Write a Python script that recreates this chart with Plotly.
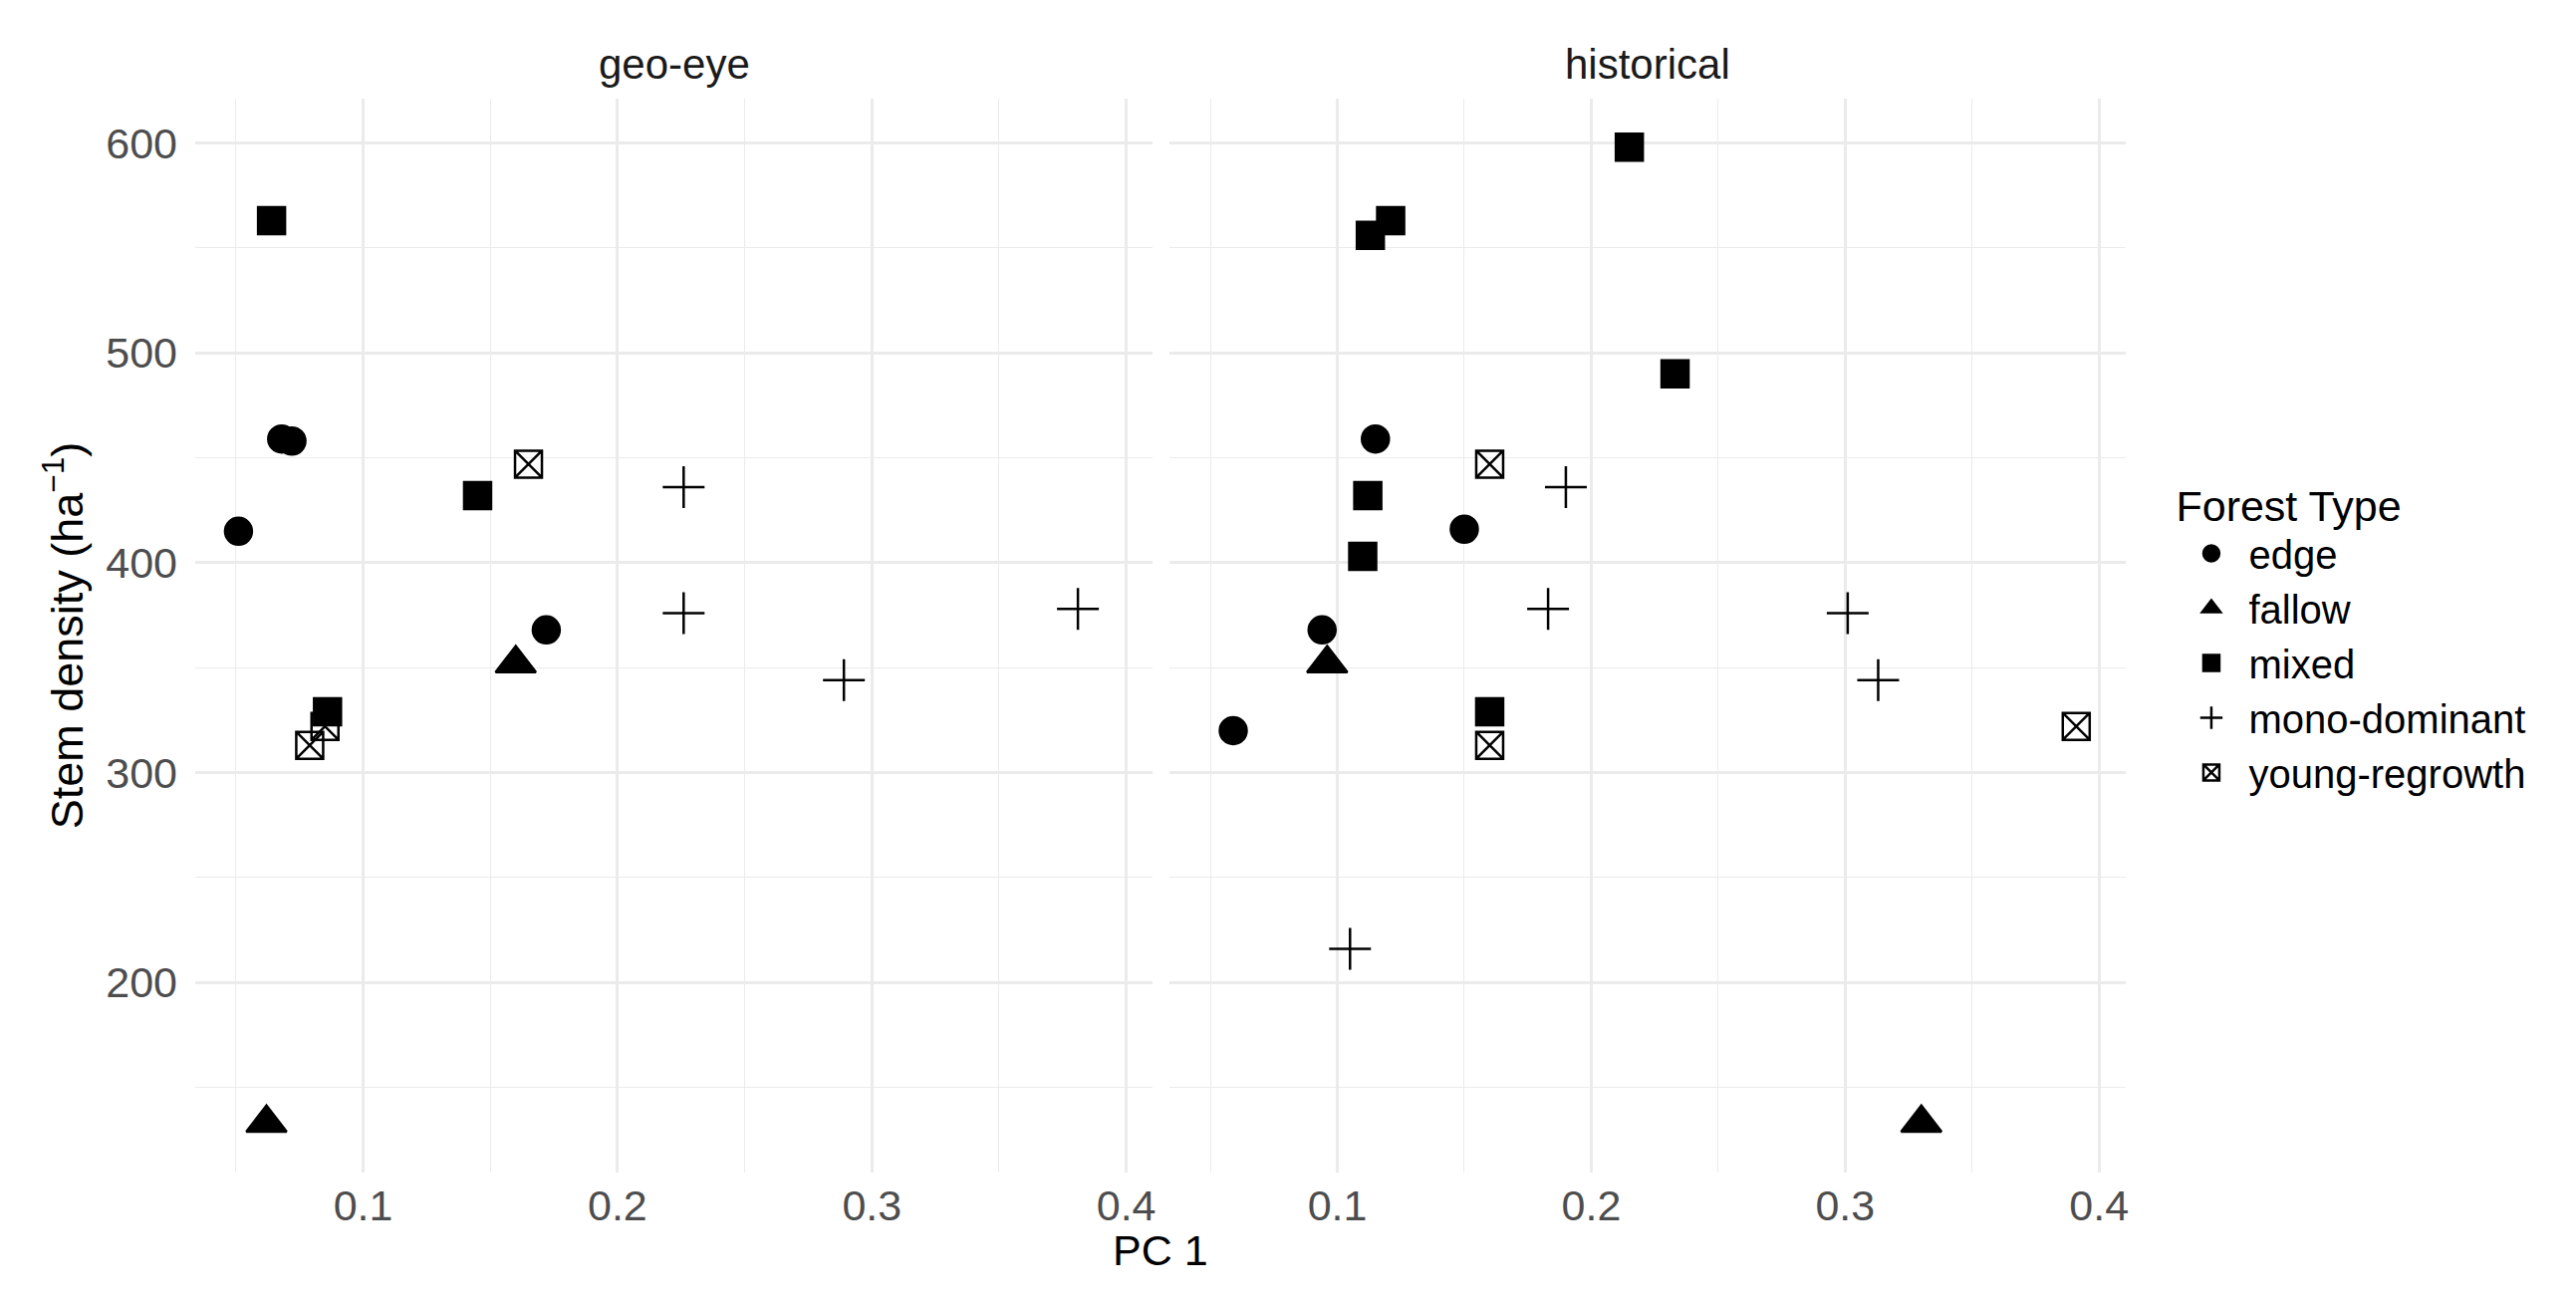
import plotly.graph_objects as go

# forest types in legend order
forest_types = ['edge', 'fallow', 'mixed', 'mono-dominant', 'young-regrowth']

# geo-eye facet
geo_type = ['edge', 'edge', 'edge', 'edge',
            'fallow', 'fallow',
            'mixed', 'mixed', 'mixed',
            'mono-dominant', 'mono-dominant', 'mono-dominant', 'mono-dominant',
            'young-regrowth', 'young-regrowth', 'young-regrowth']
geo_pc1 = [0.051, 0.068, 0.072, 0.172,
           0.160, 0.062,
           0.064, 0.145, 0.086,
           0.226, 0.226, 0.381, 0.289,
           0.165, 0.085, 0.079]
geo_stem = [415, 459, 458, 368,
            352, 133,
            563, 432, 329,
            436, 376, 378, 344,
            447, 322, 313]

# historical facet
hist_type = ['edge', 'edge', 'edge', 'edge',
             'fallow', 'fallow',
             'mixed', 'mixed', 'mixed', 'mixed', 'mixed', 'mixed', 'mixed',
             'mono-dominant', 'mono-dominant', 'mono-dominant', 'mono-dominant', 'mono-dominant',
             'young-regrowth', 'young-regrowth', 'young-regrowth']
hist_pc1 = [0.115, 0.150, 0.094, 0.059,
            0.096, 0.330,
            0.215, 0.121, 0.113, 0.233, 0.112, 0.110, 0.160,
            0.190, 0.183, 0.301, 0.313, 0.105,
            0.160, 0.160, 0.391]
hist_stem = [459, 416, 368, 320,
             352, 133,
             598, 563, 556, 490, 432, 403, 329,
             436, 378, 376, 344, 216,
             447, 313, 322]

facets = ['geo-eye', 'historical']
x_ticks = [0.1, 0.2, 0.3, 0.4]
y_ticks = [200, 300, 400, 500, 600]

# ggplot-like shapes
symbols = {'edge': 'circle', 'fallow': 'triangle-up', 'mixed': 'square',
           'mono-dominant': 'cross-thin-open', 'young-regrowth': 'square-x-open'}
sizes = {'edge': 27, 'fallow': 35, 'mixed': 27, 'mono-dominant': 30, 'young-regrowth': 27}

FONT = 'Liberation Sans, Arial, sans-serif'

fig = go.Figure()

for fi, (ftype, fx, fy) in enumerate([(geo_type, geo_pc1, geo_stem), (hist_type, hist_pc1, hist_stem)]):
    for t in forest_types:
        xs = [x for x, k in zip(fx, ftype) if k == t]
        ys = [y for y, k in zip(fy, ftype) if k == t]
        fig.add_trace(go.Scatter(
            x=xs, y=ys, mode='markers', name=t,
            legendgroup=t, showlegend=(fi == 0),
            xaxis='x' if fi == 0 else 'x2',
            yaxis='y' if fi == 0 else 'y2',
            marker=dict(symbol=symbols[t], size=sizes[t], color='black',
                        line=dict(color='black', width=2.5)),
        ))

grid_major = '#EBEBEB'
axis_common = dict(showline=False, zeroline=False, ticks='', showgrid=True,
                   gridcolor=grid_major, gridwidth=2.7,
                   tickfont=dict(family=FONT, size=43, color='#4D4D4D'))
minor_x = dict(dtick=0.05, tick0=0, showgrid=True, gridcolor=grid_major, gridwidth=1.4)
minor_y = dict(dtick=50, tick0=0, showgrid=True, gridcolor=grid_major, gridwidth=1.4)

xr = [0.034, 0.4105]
yr = [109.4, 621.2]

# page body adds an 8px margin, so the figure is 8px smaller than the window
fig.update_layout(
    width=2578, height=1299,
    paper_bgcolor='white', plot_bgcolor='white',
    margin=dict(l=188, r=452, t=91, b=130),
    font=dict(family=FONT, color='black'),
    xaxis=dict(domain=[0, 0.4961], range=xr, tickvals=x_ticks,
               ticktext=[str(v) for v in x_ticks], ticklabelstandoff=4,
               minor=minor_x, **axis_common),
    xaxis2=dict(domain=[0.5048, 1], range=xr, tickvals=x_ticks,
                ticktext=[str(v) for v in x_ticks], ticklabelstandoff=4,
                minor=minor_x, **axis_common),
    yaxis=dict(anchor='x', range=yr, tickvals=y_ticks, ticklabelstandoff=17,
               minor=minor_y,
               title=dict(text='Stem density (ha<sup>\u22121</sup>)', standoff=8,
                          font=dict(family=FONT, size=45, color='black')),
               **axis_common),
    yaxis2=dict(anchor='x2', range=yr, tickvals=y_ticks, showticklabels=False,
                minor=minor_y, **axis_common),
    legend=dict(
        x=1.025, y=0.6586, xanchor='left', yanchor='top',
        title=dict(text='Forest Type', font=dict(family=FONT, size=43, color='black')),
        font=dict(family=FONT, size=40, color='black'),
        itemwidth=65, tracegroupgap=0, bgcolor='rgba(0,0,0,0)',
    ),
    annotations=[
        dict(text=facets[0], xref='x domain', yref='paper', x=0.5, y=1,
             xanchor='center', yanchor='bottom', yshift=9, showarrow=False,
             font=dict(family=FONT, size=42, color='#1A1A1A')),
        dict(text=facets[1], xref='x2 domain', yref='paper', x=0.5, y=1,
             xanchor='center', yanchor='bottom', yshift=9, showarrow=False,
             font=dict(family=FONT, size=42, color='#1A1A1A')),
        dict(text='PC 1', xref='paper', yref='paper', x=0.5, y=0,
             xanchor='center', yanchor='top', yshift=-52, showarrow=False,
             font=dict(family=FONT, size=43, color='black')),
    ],
)

fig.write_html("out.html")
